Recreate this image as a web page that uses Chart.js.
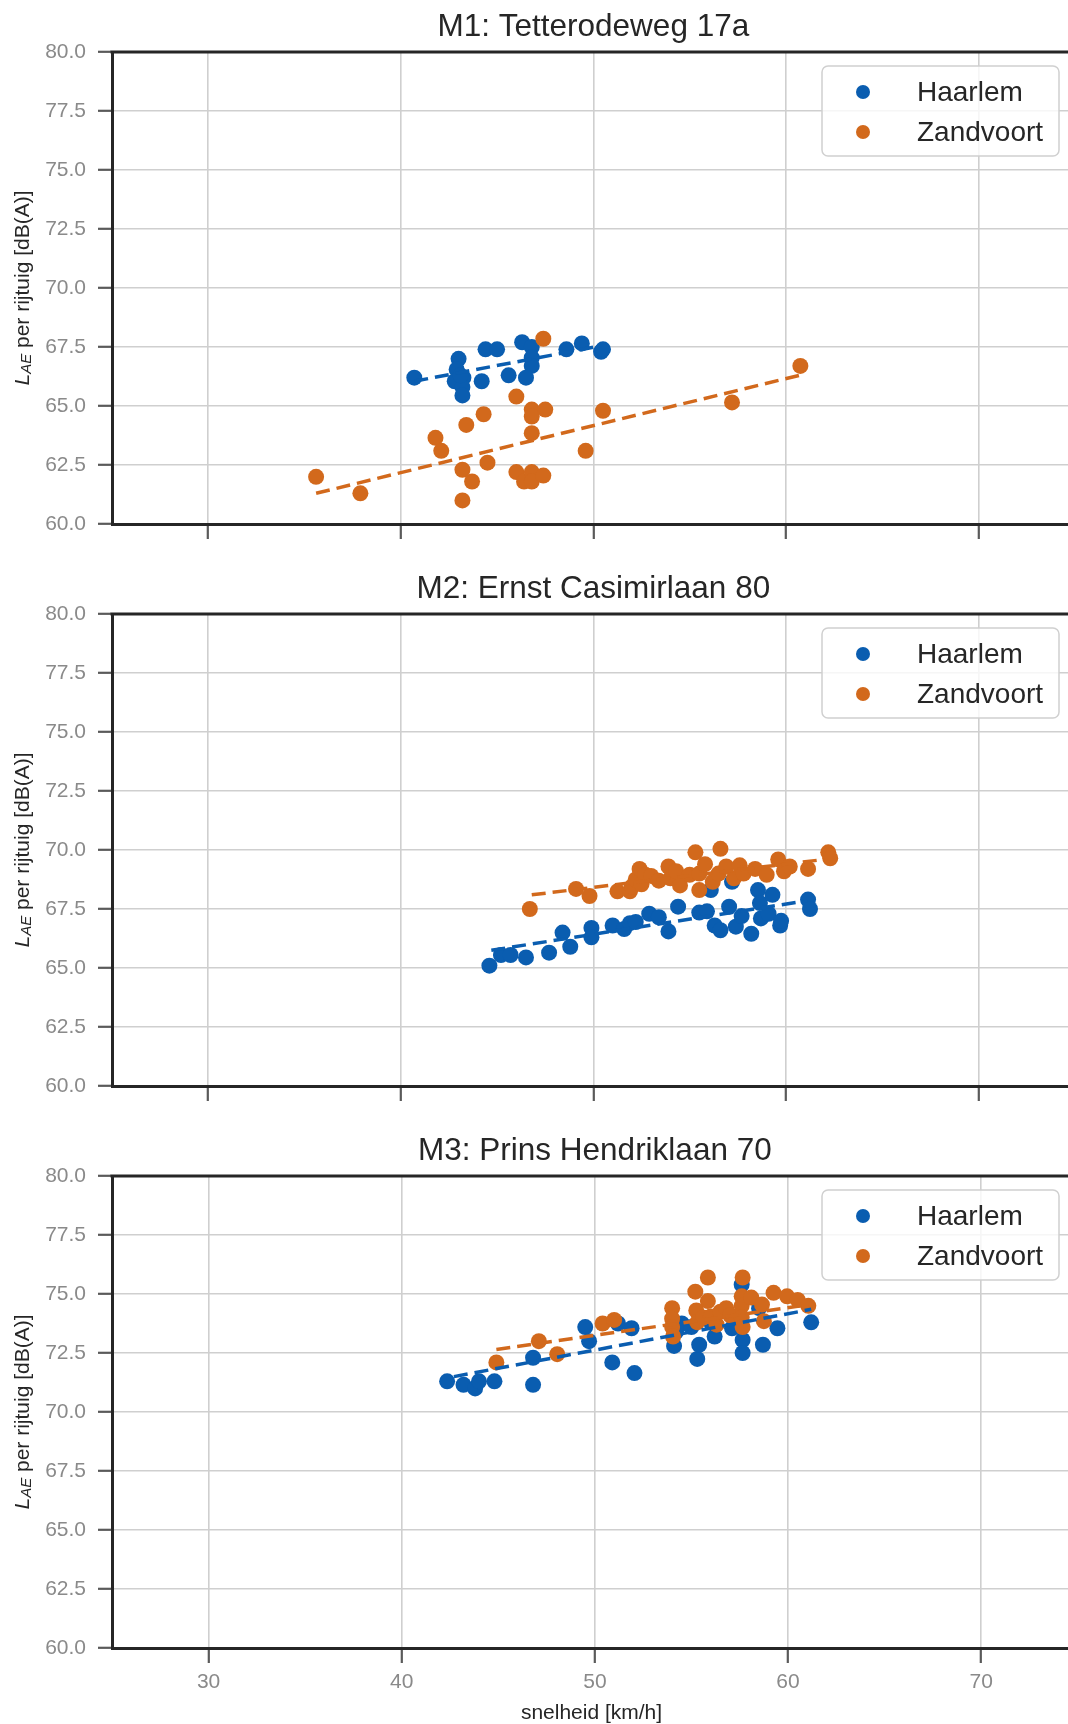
<!DOCTYPE html>
<html>
<head>
<meta charset="utf-8">
<script src="https://cdn.jsdelivr.net/npm/chart.js@4.4.1/dist/chart.umd.min.js"></script>
<style>
html { margin: 0; padding: 0; overflow: hidden; width: 1068px; height: 1724px; background: #fff; }
body { margin: 0; padding: 0; background: #fff; }
#wrap { position: relative; width: 1100px; height: 1724px; }
canvas { position: absolute; left: 0; }
</style>
</head>
<body>
<div id="wrap">
<canvas id="m1" width="1076" height="562" style="top:0px"></canvas>
<canvas id="m2" width="1076" height="562" style="top:562px"></canvas>
<canvas id="m3" width="1079" height="600" style="top:1124px"></canvas>
</div>
<script>
// assen
var xTicks = [30, 40, 50, 60, 70];
var yTicks = [60, 62.5, 65, 67.5, 70, 72.5, 75, 77.5, 80];
var titels = ['M1: Tetterodeweg 17a', 'M2: Ernst Casimirlaan 80', 'M3: Prins Hendriklaan 70'];
var reeksen = ['Haarlem', 'Zandvoort'];
var kleuren = ['#0a5db0', '#d2691c'];

// M1 - snelheid (x) en LAE (y)
var m1HaarlemX = [40.7, 43.0, 42.9, 42.8, 43.25, 43.2, 43.2, 43.1, 44.2, 44.4, 45.0, 45.6, 46.3, 46.8, 46.8, 46.8, 46.5, 48.6, 49.4, 50.4, 50.5];
var m1HaarlemY = [66.2, 67.0, 66.55, 66.05, 66.2, 65.8, 65.45, 66.3, 66.05, 67.4, 67.4, 66.3, 67.7, 67.5, 67.05, 66.7, 66.2, 67.4, 67.65, 67.3, 67.4];
var m1ZandvoortX = [35.6, 37.9, 41.8, 42.1, 43.4, 44.3, 43.2, 43.7, 43.2, 44.5, 46.0, 46.8, 46.8, 47.5, 46.8, 47.4, 46.0, 46.4, 46.8, 46.8, 47.4, 49.6, 50.5, 57.2, 60.75];
var m1ZandvoortY = [62.0, 61.3, 63.65, 63.1, 64.2, 64.65, 62.3, 61.8, 61.0, 62.6, 65.4, 64.85, 64.55, 64.85, 63.85, 67.85, 62.2, 61.8, 62.2, 61.8, 62.05, 63.1, 64.8, 65.15, 66.7];
var m1FitHaarlem = [[40.7, 66.05], [50.4, 67.55]];
var m1FitZandvoort = [[35.6, 61.3], [60.7, 66.3]];

// M2
var m2HaarlemX = [44.6, 45.2, 45.7, 46.5, 47.7, 48.4, 48.8, 49.9, 49.9, 51.0, 51.6, 51.9, 52.2, 52.9, 53.4, 53.9, 54.4, 55.5, 55.9, 56.3, 56.6, 56.1, 57.05, 57.4, 57.7, 57.2, 58.2, 58.55, 58.65, 58.7, 59.1, 59.3, 59.7, 59.75, 61.15, 61.25];
var m2HaarlemY = [65.1, 65.55, 65.55, 65.45, 65.65, 66.5, 65.9, 66.7, 66.3, 66.8, 66.65, 66.9, 66.95, 67.3, 67.15, 66.55, 67.6, 67.35, 67.4, 66.8, 66.6, 68.3, 67.6, 66.75, 67.2, 68.65, 66.45, 68.3, 67.75, 67.1, 67.3, 68.1, 66.8, 67.0, 67.9, 67.5];
var m2ZandvoortX = [46.7, 49.1, 49.8, 51.25, 51.9, 52.0, 52.2, 52.4, 52.5, 52.7, 53.0, 53.4, 53.9, 54.0, 54.3, 54.5, 55.0, 55.3, 55.5, 55.5, 55.8, 56.2, 56.5, 56.6, 56.9, 57.3, 57.6, 57.8, 58.4, 59.0, 59.6, 59.9, 60.2, 61.15, 62.2, 62.3];
var m2ZandvoortY = [67.5, 68.35, 68.05, 68.25, 68.25, 68.45, 68.75, 69.2, 68.55, 68.95, 68.9, 68.7, 69.3, 68.8, 69.1, 68.5, 68.95, 69.9, 68.3, 69.0, 69.4, 68.65, 69.0, 70.05, 69.3, 68.8, 69.35, 69.0, 69.2, 68.95, 69.6, 69.1, 69.3, 69.2, 69.9, 69.65];
var m2FitHaarlem = [[44.7, 65.75], [61.1, 67.85]];
var m2FitZandvoort = [[46.8, 68.1], [62.0, 69.6]];

// M3
var m3HaarlemX = [42.35, 43.2, 43.8, 44.0, 44.8, 46.8, 46.8, 49.5, 49.7, 50.9, 51.2, 51.9, 52.05, 54.1, 54.2, 54.5, 55.0, 55.3, 55.4, 56.0, 56.2, 57.1, 57.5, 57.6, 57.65, 57.65, 58.5, 58.7, 59.45, 61.2];
var m3HaarlemY = [71.3, 71.15, 71.0, 71.3, 71.3, 72.3, 71.15, 73.6, 73.0, 72.1, 73.75, 73.55, 71.65, 72.8, 73.4, 73.75, 73.6, 72.25, 72.85, 73.8, 73.2, 73.55, 73.9, 75.4, 73.05, 72.5, 74.4, 72.85, 73.55, 73.8];
var m3ZandvoortX = [44.9, 47.1, 48.05, 50.4, 51.0, 54.0, 54.0, 54.0, 54.05, 55.2, 55.85, 55.85, 55.25, 55.3, 55.6, 56.0, 56.3, 56.5, 56.8, 57.0, 57.65, 57.6, 57.6, 57.6, 57.65, 58.1, 58.65, 58.75, 59.25, 59.95, 60.5, 61.05];
var m3ZandvoortY = [72.1, 73.0, 72.45, 73.75, 73.9, 74.4, 73.95, 73.6, 73.2, 75.1, 75.7, 74.7, 74.3, 73.8, 74.0, 74.05, 73.7, 74.25, 74.4, 74.1, 75.7, 74.9, 74.5, 74.0, 73.6, 74.85, 74.55, 73.85, 75.05, 74.9, 74.75, 74.5];
var m3FitHaarlem = [[42.7, 71.5], [61.2, 74.35]];
var m3FitZandvoort = [[44.9, 72.65], [61.1, 74.55]];

var xMin = 25, xMax = 74.65, yMin = 60, yMax = 80;
var titelMidden = 50;
var lettertype = "'Liberation Sans', Arial, sans-serif";

function punten(xs, ys){
    return xs.map(function(x, i){ return {x: x, y: ys[i]}; });
}
function lijn(paar){
    return paar.map(function(p){ return {x: p[0], y: p[1]}; });
}

// titel, bovenrand, y-label en legenda zelf tekenen
var extraTekenen = {
    id: 'extraTekenen',
    beforeDatasetsDraw: function(chart){
        var ctx = chart.ctx, a = chart.chartArea;
        ctx.save();
        ctx.strokeStyle = '#262626';
        ctx.lineWidth = 3;
        ctx.beginPath();
        ctx.moveTo(a.left - 1.5, a.top);
        ctx.lineTo(a.right + 10, a.top);
        ctx.stroke();
        ctx.restore();
    },
    afterDatasetsDraw: function(chart){
        var ctx = chart.ctx, a = chart.chartArea;
        var bx = 822, by = a.top + 14;
        ctx.save();
        ctx.fillStyle = 'rgba(255,255,255,0.8)';
        ctx.strokeStyle = '#d0d0d0';
        ctx.lineWidth = 1.5;
        ctx.beginPath();
        ctx.roundRect(bx, by, 237, 90, 6);
        ctx.fill();
        ctx.stroke();
        var items = chart.data.datasets.filter(function(d){ return d.inLegenda; });
        items.sort(function(p, q){ return reeksen.indexOf(p.label) - reeksen.indexOf(q.label); });
        items.forEach(function(d, i){
            var yy = by + 26 + i * 40;
            ctx.fillStyle = d.backgroundColor;
            ctx.beginPath();
            ctx.arc(bx + 41, yy, 7, 0, Math.PI * 2);
            ctx.fill();
            ctx.fillStyle = '#262626';
            ctx.font = '28px ' + lettertype;
            ctx.textBaseline = 'middle';
            ctx.textAlign = 'left';
            ctx.fillText(d.label, bx + 95, yy + 1);
        });
        ctx.restore();
    },
    afterDraw: function(chart){
        var ctx = chart.ctx, a = chart.chartArea;
        var xs = chart.scales.x;
        ctx.save();
        // titel
        ctx.fillStyle = '#262626';
        ctx.font = '31.5px ' + lettertype;
        ctx.textAlign = 'center';
        ctx.textBaseline = 'alphabetic';
        ctx.fillText(chart.options.titelTekst, xs.getPixelForValue(titelMidden), a.top - 16);
        // y-label met subscript
        ctx.translate(23, (a.top + a.bottom) / 2);
        ctx.rotate(-Math.PI / 2);
        ctx.textBaseline = 'middle';
        ctx.textAlign = 'left';
        var f1 = 'italic 21px ' + lettertype, f2 = 'italic 15px ' + lettertype, f3 = '21px ' + lettertype;
        var rest = ' per rijtuig [dB(A)]';
        ctx.font = f1; var w1 = ctx.measureText('L').width;
        ctx.font = f2; var w2 = ctx.measureText('AE').width;
        ctx.font = f3; var w3 = ctx.measureText(rest).width;
        var x0 = -(w1 + w2 + w3) / 2;
        ctx.font = f1; ctx.fillText('L', x0, 0);
        ctx.font = f2; ctx.fillText('AE', x0 + w1, 4);
        ctx.font = f3; ctx.fillText(rest, x0 + w1 + w2, 0);
        ctx.restore();
    }
};

function paneel(id, titel, hX, hY, zX, zY, hFit, zFit, metLabels){
    var canvas = document.getElementById(id);
    var hoogte = canvas.height;
    new Chart(canvas, {
        type: 'scatter',
        data: {
            datasets: [
                {type: 'line', label: 'fitZ', data: lijn(zFit), borderColor: kleuren[1], borderWidth: 3.5, borderDash: [14, 7], pointRadius: 0, fill: false, order: 0},
                {type: 'line', label: 'fitH', data: lijn(hFit), borderColor: kleuren[0], borderWidth: 3.5, borderDash: [14, 7], pointRadius: 0, fill: false, order: 1},
                {label: reeksen[1], data: punten(zX, zY), backgroundColor: kleuren[1], borderWidth: 0, pointRadius: 8, inLegenda: true, order: 2},
                {label: reeksen[0], data: punten(hX, hY), backgroundColor: kleuren[0], borderWidth: 0, pointRadius: 8, inLegenda: true, order: 3}
            ]
        },
        options: {
            responsive: false,
            animation: false,
            titelTekst: titel,
            layout: {padding: {top: 52, left: 0, right: 0, bottom: 0}},
            plugins: {legend: {display: false}, tooltip: {enabled: false}, title: {display: false}},
            scales: {
                x: {
                    type: 'linear', min: xMin, max: xMax,
                    afterBuildTicks: function(s){ s.ticks = xTicks.map(function(v){ return {value: v}; }); },
                    afterFit: function(s){ s.height = hoogte - 524; },
                    grid: {color: '#cfcfcf', lineWidth: 1.6, tickLength: 15, tickColor: '#5a5a5a', tickWidth: 2.2},
                    border: {color: '#262626', width: 3},
                    ticks: {display: metLabels, color: '#8a8a8a', padding: 7, font: {family: lettertype, size: 21}},
                    title: {display: metLabels, text: 'snelheid [km/h]', color: '#262626', padding: 0, font: {family: lettertype, size: 21, lineHeight: 1}}
                },
                y: {
                    type: 'linear', min: yMin, max: yMax,
                    afterBuildTicks: function(s){ s.ticks = yTicks.map(function(v){ return {value: v}; }); },
                    afterFit: function(s){ s.width = 112; },
                    grid: {color: '#cfcfcf', lineWidth: 1.6, tickLength: 14, tickColor: '#5a5a5a', tickWidth: 2.2},
                    border: {color: '#262626', width: 3},
                    ticks: {color: '#8a8a8a', padding: 12, font: {family: lettertype, size: 21}, callback: function(v){ return Number(v).toFixed(1); }}
                }
            }
        },
        plugins: [extraTekenen]
    });
}

paneel('m1', titels[0], m1HaarlemX, m1HaarlemY, m1ZandvoortX, m1ZandvoortY, m1FitHaarlem, m1FitZandvoort, false);
paneel('m2', titels[1], m2HaarlemX, m2HaarlemY, m2ZandvoortX, m2ZandvoortY, m2FitHaarlem, m2FitZandvoort, false);
paneel('m3', titels[2], m3HaarlemX, m3HaarlemY, m3ZandvoortX, m3ZandvoortY, m3FitHaarlem, m3FitZandvoort, true);
</script>
</body>
</html>
